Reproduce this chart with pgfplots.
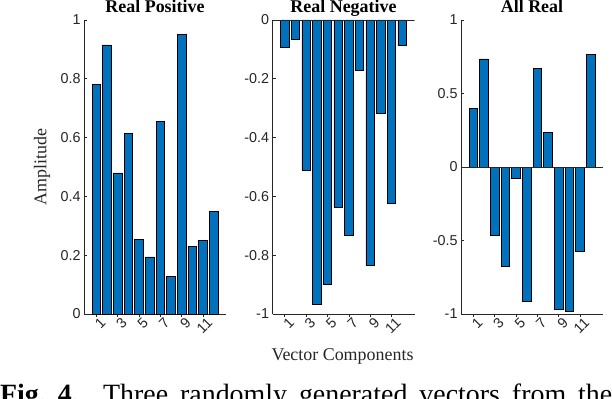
\documentclass[border=0pt]{standalone}
\usepackage{pgfplots}
\pgfplotsset{compat=1.18}
\usepackage{fontspec}
\setmainfont{Liberation Serif}
\setsansfont{Liberation Sans}

\definecolor{mblue}{RGB}{0,114,189}
\definecolor{axgray}{RGB}{38,38,38}

\pgfplotstableread{
x  v
1  0.781
2  0.915
3  0.480
4  0.615
5  0.253
6  0.194
7  0.655
8  0.128
9  0.951
10 0.229
11 0.251
12 0.350
}\realpos

\pgfplotstableread{
x  v
1  -0.093
2  -0.065
3  -0.511
4  -0.968
5  -0.898
6  -0.638
7  -0.734
8  -0.172
9  -0.836
10 -0.317
11 -0.622
12 -0.087
}\realneg

\pgfplotstableread{
x  v
1  0.397
2  0.735
3  -0.465
4  -0.673
5  -0.079
6  -0.914
7  0.671
8  0.236
9  -0.968
10 -0.982
11 -0.576
12 0.766
}\allreal

\pgfplotsset{
  vecbars/.style={
    width=142bp, height=294bp, scale only axis,
    anchor=south west,
    xmin=-0.15, xmax=13.15,
    axis x line*=bottom, axis y line*=left,
    axis line style={axgray, line width=0.6bp},
    tick align=inside, major tick length=3bp,
    tick style={axgray, line width=0.6bp},
    xtick={1,3,5,7,9,11},
    xticklabels={1,3,5,7,9,11},
    tick label style={font=\sffamily\fontsize{14.4}{16}\selectfont, text=axgray,
      /pgf/number format/assume math mode=true},
    xticklabel style={rotate=45, anchor=east, xshift=6bp, yshift=-7bp},
    ybar, bar width=0.8,
  },
  vbar/.style={fill=mblue, draw=black, line width=0.7bp},
}

\begin{document}
\begin{tikzpicture}[x=1bp, y=1bp]
\useasboundingbox (0,0) rectangle (612,398);

% Real Positive
\begin{axis}[vecbars, at={(84bp,84bp)},
    ymin=0, ymax=1,
    ytick={0,0.2,0.4,0.6,0.8,1},
    yticklabels={0,0.2,0.4,0.6,0.8,1},
]
\addplot[vbar] table[x=x, y=v] {\realpos};
\end{axis}

% Real Negative
\begin{axis}[vecbars, at={(272.5bp,84bp)},
    ymin=-1, ymax=0,
    ytick={-1,-0.8,-0.6,-0.4,-0.2,0},
    yticklabels={-1,-0.8,-0.6,-0.4,-0.2,0},
]
\addplot[vbar] table[x=x, y=v] {\realneg};
\draw[axgray, line width=0.6bp] (axis cs:-0.15,0) -- (axis cs:13.15,0);
\end{axis}

% All Real
\begin{axis}[vecbars, at={(461bp,84bp)},
    ymin=-1, ymax=1,
    ytick={-1,-0.5,0,0.5,1},
    yticklabels={-1,-0.5,0,0.5,1},
]
\addplot[vbar] table[x=x, y=v] {\allreal};
\draw[axgray, line width=0.6bp] (axis cs:-0.15,0) -- (axis cs:13.15,0);
\end{axis}

% titles
\tikzset{ttl/.style={anchor=base, inner sep=0pt, font=\bfseries\fontsize{18}{20}\selectfont}}
\node[ttl] at (155,385.3) {Real Positive};
\node[ttl] at (343.5,385.3) {Real Negative};
\node[ttl] at (532,385.3) {All Real};

\node[rotate=90, font=\fontsize{18}{20}\selectfont, text=axgray] at (42,231) {Amplitude};
\node[anchor=base, font=\fontsize{18}{20}\selectfont, text=axgray] at (342.5,37.3) {Vector Components};
\node[anchor=base west, inner sep=0pt, font=\fontsize{28}{32}\selectfont] at (0,-5)
  {\makebox[612bp][s]{\textbf{Fig.~4.} Three randomly generated vectors from the}};
\end{tikzpicture}
\end{document}
